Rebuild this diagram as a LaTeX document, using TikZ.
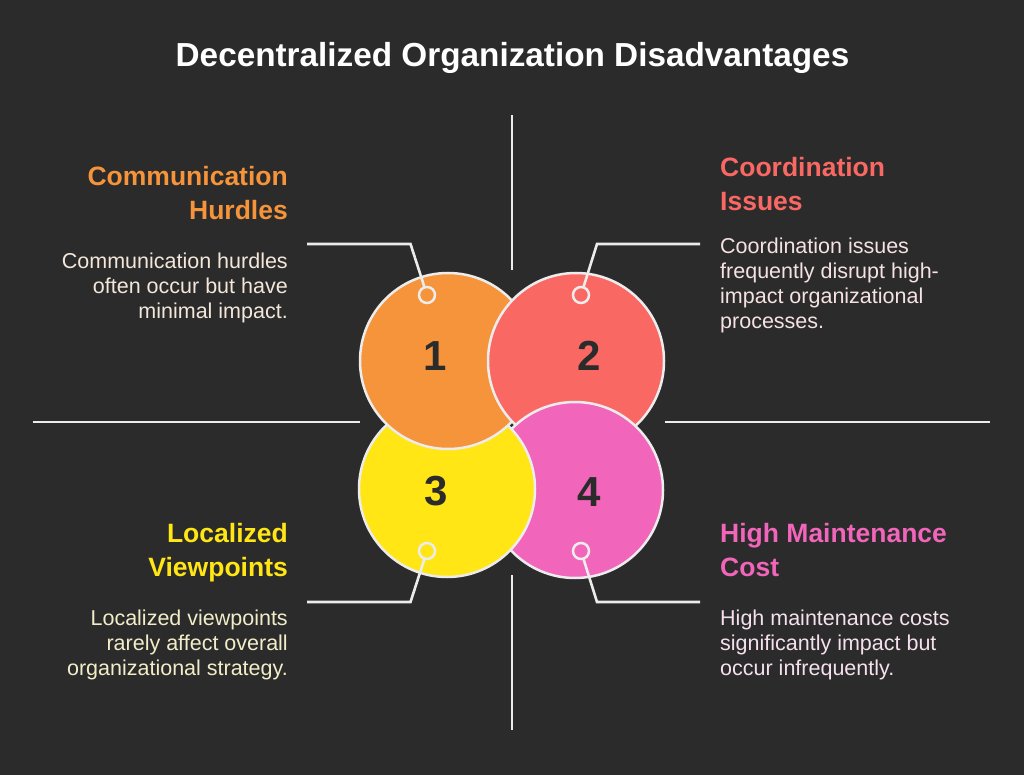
\documentclass[tikz,border=0pt]{standalone}
\usepackage{fontspec}
\setmainfont{Liberation Sans}
\definecolor{bg}{RGB}{43,43,43}
\definecolor{lineclr}{RGB}{236,236,236}
\definecolor{corange}{RGB}{245,148,58}
\definecolor{ccoral}{RGB}{250,104,100}
\definecolor{cyellow}{RGB}{255,230,20}
\definecolor{cpink}{RGB}{241,101,187}
\definecolor{dorange}{RGB}{244,231,218}
\definecolor{dcoral}{RGB}{246,226,226}
\definecolor{dyellow}{RGB}{242,237,200}
\definecolor{dpink}{RGB}{246,224,238}
\definecolor{numclr}{RGB}{43,43,43}
\begin{document}
\begin{tikzpicture}[x=1pt,y=-1pt,
  bigc/.style={circle, draw=lineclr, line width=2.5pt, minimum size=176pt, inner sep=0pt, outer sep=0pt},
  marker/.style={circle, draw=lineclr, line width=2.5pt, minimum size=16pt, inner sep=0pt, outer sep=0pt},
  num/.style={font=\fontsize{42}{42}\selectfont\bfseries, text=numclr, inner sep=0pt},
  head/.style={font=\fontsize{26.5}{34}\selectfont\bfseries, inner sep=0pt},
  desc/.style={font=\fontsize{21.5}{25}\selectfont, inner sep=0pt},
  wire/.style={draw=lineclr, line width=2.6pt},
  titlestyle/.style={font=\fontsize{33.3}{40}\selectfont\bfseries, text=white, inner sep=0pt}]
\useasboundingbox (0,0) rectangle (1024,775);
\fill[bg] (0,0) rectangle (1024,775);

% title
\node[titlestyle, anchor=base] (title) at (512.5,67) {Decentralized Organization Disadvantages};

% divider lines
\coordinate (vt1) at (512,115); \coordinate (vt2) at (512,270);
\coordinate (vb1) at (512,575); \coordinate (vb2) at (512,730);
\coordinate (hl1) at (33,422);  \coordinate (hl2) at (360,422);
\coordinate (hr1) at (665,422); \coordinate (hr2) at (990,422);
\draw[wire] (vt1) -- (vt2);
\draw[wire] (vb1) -- (vb2);
\draw[wire] (hl1) -- (hl2);
\draw[wire] (hr1) -- (hr2);

% circle centres
\coordinate (p1) at (448,361);
\coordinate (p2) at (576,361);
\coordinate (p3) at (447,489);
\coordinate (p4) at (575,490);

\node[bigc, fill=cyellow] (c3) at (p3) {};
\node[bigc, fill=corange] (c1) at (p1) {};
\node[bigc, fill=ccoral] (c2) at (p2) {};
\node[bigc, fill=cpink] (c4) at (p4) {};
\begin{scope}
  \clip (p4) circle (90pt);
  \node[bigc, fill=cyellow] (c3top) at (p3) {};
\end{scope}

% numbers
\node[num, anchor=base] (n1) at (435,370) {1};
\node[num, anchor=base] (n2) at (589,370) {2};
\node[num, anchor=base] (n3) at (436,505) {3};
\node[num, anchor=base] (n4) at (589,506) {4};

% markers
\node[marker, fill=corange] (m1) at (427,295) {};
\node[marker, fill=ccoral] (m2) at (581,295) {};
\node[marker, fill=cyellow] (m3) at (427,551) {};
\node[marker, fill=cpink] (m4) at (581,551) {};

% connectors
\coordinate (k1) at (410.5,244); \coordinate (e1) at (307,244);
\coordinate (k2) at (597,244);   \coordinate (e2) at (700,244);
\coordinate (k3) at (410.5,602); \coordinate (e3) at (307,602);
\coordinate (k4) at (597,602);   \coordinate (e4) at (700,602);
\draw[wire] (m1) -- (k1) -- (e1);
\draw[wire] (m2) -- (k2) -- (e2);
\draw[wire] (m3) -- (k3) -- (e3);
\draw[wire] (m4) -- (k4) -- (e4);

% headings
\node[head, text=corange, anchor=north east] (h1) at (288,161.2)
  {\begin{tabular}{@{}r@{}}Communication\\Hurdles\end{tabular}};
\node[head, text=ccoral, anchor=north west] (h2) at (720,152.2)
  {\begin{tabular}{@{}l@{}}Coordination\\Issues\end{tabular}};
\node[head, text=cyellow, anchor=north east] (h3) at (288,518.2)
  {\begin{tabular}{@{}r@{}}Localized\\Viewpoints\end{tabular}};
\node[head, text=cpink, anchor=north west] (h4) at (720,518.2)
  {\begin{tabular}{@{}l@{}}High Maintenance\\Cost\end{tabular}};

% descriptions
\node[desc, text=dorange, anchor=north east] (d1) at (288,250.5)
  {\begin{tabular}{@{}r@{}}Communication hurdles\\often occur but have\\minimal impact.\end{tabular}};
\node[desc, text=dcoral, anchor=north west] (d2) at (720,235.5)
  {\begin{tabular}{@{}l@{}}Coordination issues\\frequently disrupt high-\\impact organizational\\processes.\end{tabular}};
\node[desc, text=dyellow, anchor=north east] (d3) at (288,607.5)
  {\begin{tabular}{@{}r@{}}Localized viewpoints\\rarely affect overall\\organizational strategy.\end{tabular}};
\node[desc, text=dpink, anchor=north west] (d4) at (720,607.5)
  {\begin{tabular}{@{}l@{}}High maintenance costs\\significantly impact but\\occur infrequently.\end{tabular}};
\end{tikzpicture}
\end{document}
